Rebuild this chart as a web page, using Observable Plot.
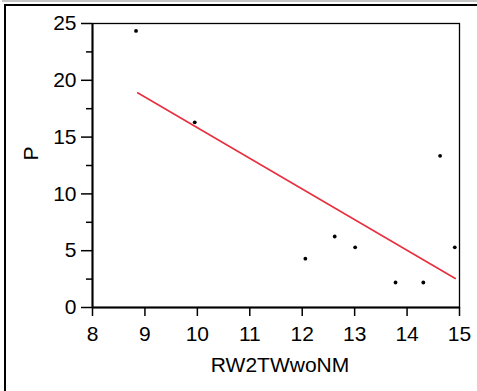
<!DOCTYPE html>
<html>
<head>
<meta charset="utf-8">
<script src="https://cdn.jsdelivr.net/npm/d3@7"></script>
<script src="https://cdn.jsdelivr.net/npm/@observablehq/plot@0.6"></script>
<style>
  html, body { margin: 0; padding: 0; background: #fff; }
  #wrap { position: relative; width: 477px; height: 391px; overflow: hidden; }
  #gray { position: absolute; left: 2px; top: 0; width: 475px; height: 2px; background: #c4c4c4; }
  #box { position: absolute; left: 4px; top: 4px; width: 480px; height: 400px; border-top: 2px solid #000; border-left: 2px solid #000; box-sizing: border-box; pointer-events: none; }
</style>
</head>
<body>
<div id="wrap"><div id="gray"></div><div id="box"></div></div>
<script>
const xValues = [8.83, 9.95, 12.06, 12.62, 13.01, 13.78, 14.31, 14.63, 14.91];
const yValues = [24.35, 16.3, 4.3, 6.25, 5.3, 2.2, 2.2, 13.35, 5.3];
const fitX = [8.86, 14.92];
const fitY = [18.9, 2.55];
const xTicks = [8, 9, 10, 11, 12, 13, 14, 15];
const yTicks = [0, 5, 10, 15, 20, 25];
const yMinorTicks = [2.5, 7.5, 12.5, 17.5, 22.5];
const xLabel = "RW2TWwoNM";
const yLabel = "P";

const points = xValues.map((x, i) => ({x, y: yValues[i]}));
const fit = fitX.map((x, i) => ({x, y: fitY[i]}));

const chart = Plot.plot({
  width: 477,
  height: 391,
  marginLeft: 92,
  marginRight: 18,
  marginTop: 23,
  marginBottom: 84,
  style: {fontFamily: "'Liberation Sans', Arial, sans-serif", fontSize: "21px", color: "#000", background: "transparent"},
  x: {domain: [8, 15]},
  y: {domain: [0, 25]},
  marks: [
    Plot.frame({stroke: "#000", strokeWidth: 1.3}),
    Plot.ruleY([0], {stroke: "#000", strokeWidth: 2}),
    Plot.ruleX([8], {stroke: "#000", strokeWidth: 2}),
    Plot.axisX(xTicks, {tickSize: 9, tickPadding: 10, strokeWidth: 1.5, label: null, tickFormat: d => String(d)}),
    Plot.axisY(yTicks, {tickSize: 11, tickPadding: 5, strokeWidth: 1.5, label: null, tickFormat: d => String(d)}),
    Plot.axisY(yMinorTicks, {tickSize: 6, strokeWidth: 1.5, label: null, tickFormat: () => ""}),
    Plot.line(fit, {x: "x", y: "y", stroke: "#e8303f", strokeWidth: 1.6}),
    Plot.dot(points, {x: "x", y: "y", r: 1.9, fill: "#000", stroke: "none"}),
    Plot.text([xLabel], {frameAnchor: "bottom", lineAnchor: "top", dy: 50, dx: 4, fill: "#000"}),
    Plot.text([yLabel], {frameAnchor: "left", rotate: -90, dx: -61, dy: -5, fill: "#000"})
  ]
});
chart.style.position = "absolute";
chart.style.left = "0";
chart.style.top = "0";
document.getElementById("wrap").prepend(chart);
</script>
</body>
</html>
